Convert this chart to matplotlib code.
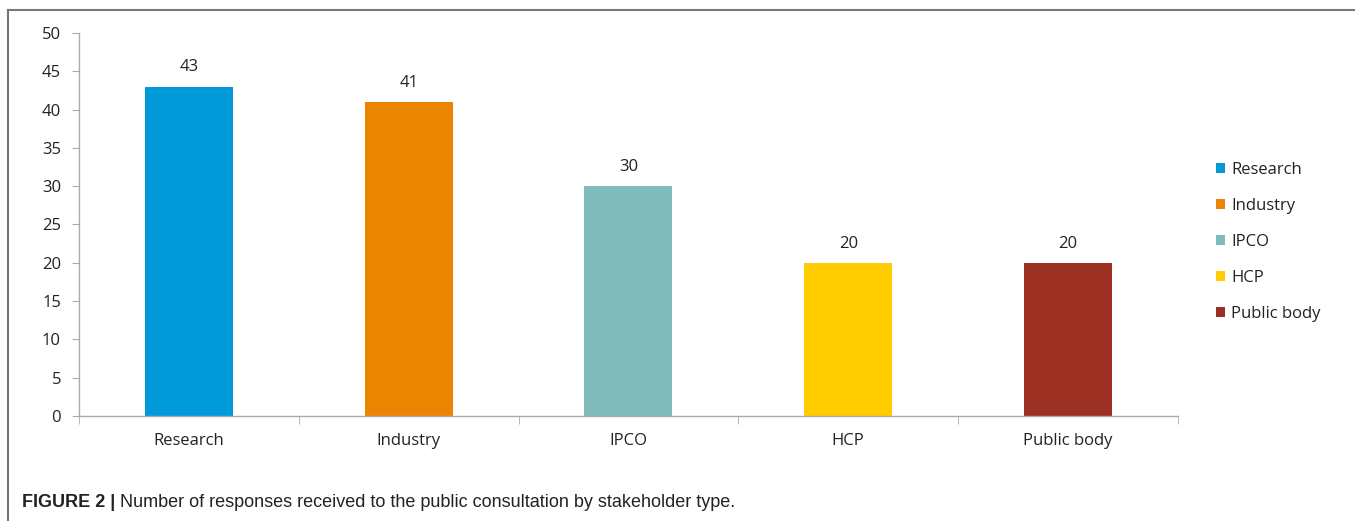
import matplotlib.pyplot as plt
from matplotlib.patches import Patch

# data
categories = ['Research', 'Industry', 'IPCO', 'HCP', 'Public body']
responses = [43, 41, 30, 20, 20]
bar_colors = ['#009ADA', '#EB8500', '#80BCBC', '#FFCC00', '#9B3023']
y_ticks = list(range(0, 55, 5))

plt.rcParams['font.family'] = ['Open Sans', 'DejaVu Sans']

fig = plt.figure(figsize=(13.55, 5.21), dpi=100)
ax = fig.add_axes([0.0583, 0.2015, 0.811, 0.7352])

x = range(len(categories))
bars = ax.bar(x, responses, width=0.4, color=bar_colors)

for xi, v in zip(x, responses):
    ax.annotate(str(v), (xi, v), xytext=(0, 8), textcoords='offset points',
                ha='center', va='bottom', fontsize=12, color='#222222')

ax.set_xlim(-0.5, len(categories) - 0.5)
ax.set_ylim(0, 50)
ax.set_yticks(y_ticks)
ax.set_xticks(list(x))
ax.set_xticklabels(categories, fontsize=12, color='#222222')
ax.tick_params(axis='x', length=0, pad=12)
ax.tick_params(axis='y', labelsize=12, labelcolor='#222222', color='#aaaaaa',
               length=5, pad=8)
# minor ticks between categories, like the spreadsheet chart
ax.set_xticks([i - 0.5 for i in range(len(categories) + 1)], minor=True)
ax.tick_params(axis='x', which='minor', length=6, color='#aaaaaa', direction='out')

for side in ('top', 'right'):
    ax.spines[side].set_visible(False)
for side in ('left', 'bottom'):
    ax.spines[side].set_color('#aaaaaa')
    ax.spines[side].set_linewidth(1.0)

handles = [Patch(facecolor=c, label=l) for c, l in zip(bar_colors, categories)]
leg = fig.legend(handles=handles, loc='upper left', bbox_to_anchor=(0.8915, 0.706),
                 frameon=False, fontsize=12, handlelength=0.55, handleheight=0.55,
                 handletextpad=0.35, labelspacing=1.2, borderpad=0)
for t in leg.get_texts():
    t.set_color('#222222')

# frame around the figure panel (top and left edges visible)
fig.add_artist(plt.Line2D([0.0059, 1.0], [0.9815, 0.9815], transform=fig.transFigure,
                          color='#777777', linewidth=1.5))
fig.add_artist(plt.Line2D([0.0059, 0.0059], [0.0, 0.9815], transform=fig.transFigure,
                          color='#777777', linewidth=1.5))

# caption
cap_y = 0.027
cap_bold = fig.text(0.0162, cap_y, 'FIGURE 2 | ', fontsize=13, fontweight='bold',
                    family='Liberation Sans', va='baseline', color='#222222')
fig.canvas.draw()
bb = cap_bold.get_window_extent()
fig.text(bb.x1 / fig.bbox.width, cap_y,
         'Number of responses received to the public consultation by stakeholder type.',
         fontsize=13, family='Liberation Sans', va='baseline', color='#222222')

fig.savefig('out.png', dpi=100)
